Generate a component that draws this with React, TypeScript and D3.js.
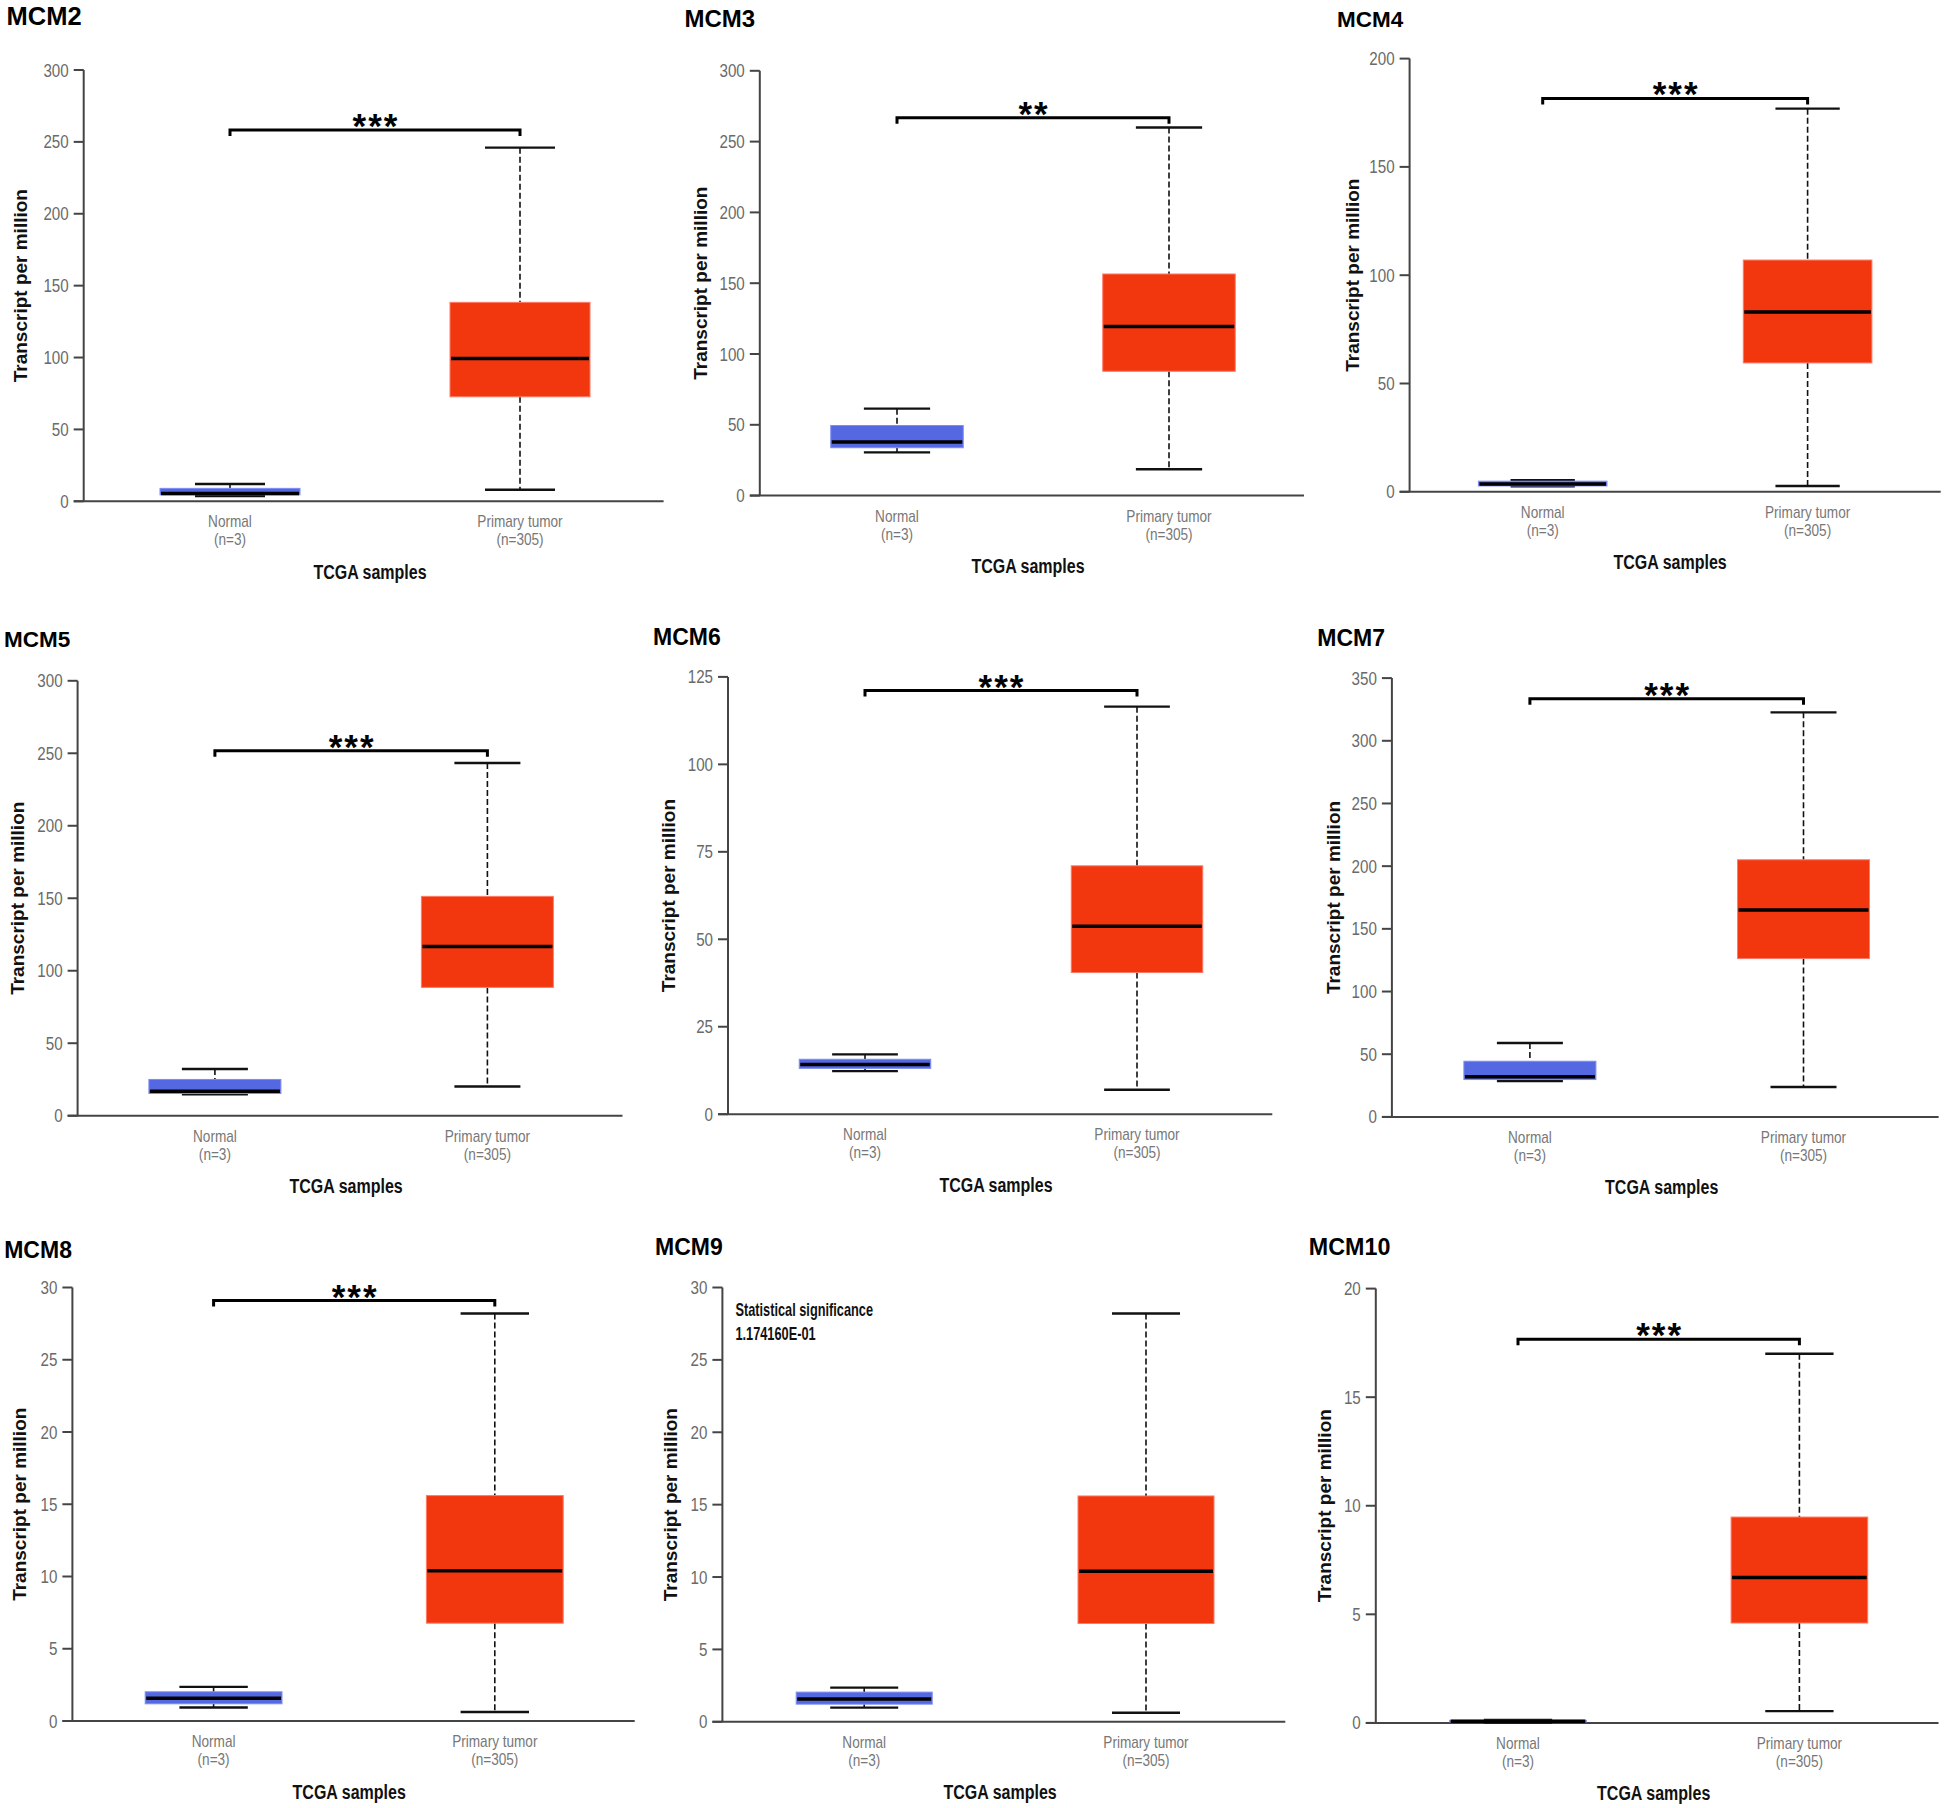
import React from "react";
import * as d3 from "d3";

// ---------- data ----------
const genes = ["MCM2", "MCM3", "MCM4", "MCM5", "MCM6", "MCM7", "MCM8", "MCM9", "MCM10"];
const categories = ["Normal", "Primary tumor"];
const sampleCounts = ["(n=3)", "(n=305)"];
const yMax = [300, 300, 200, 300, 125, 350, 30, 30, 20];
const yStep = [50, 50, 50, 50, 25, 50, 5, 5, 5];
// [whiskerLow, q1, median, q3, whiskerHigh]
const normalStats = [
  [3.7, 4.5, 5.5, 9, 12],
  [30.5, 33.8, 37.8, 49.5, 61.4],
  [2.5, 2.7, 3.6, 4.9, 5.3],
  [14.8, 15.3, 16.9, 25, 32.2],
  [12.3, 13.1, 14.2, 15.7, 17.1],
  [28.5, 29.8, 32, 44.4, 59],
  [0.93, 1.19, 1.58, 2.02, 2.36],
  [0.98, 1.22, 1.58, 2.05, 2.36],
  [0.02, 0.04, 0.08, 0.12, 0.14],
];
const tumorStats = [
  [8, 72.7, 99.3, 138.4, 246],
  [18.6, 87.8, 119.5, 156.5, 260],
  [2.7, 59.5, 83, 107, 176.9],
  [20.1, 88.5, 116.7, 151.3, 243.3],
  [7, 40.5, 53.7, 71, 116.5],
  [23.9, 126.3, 165.1, 205.1, 322.7],
  [0.62, 6.77, 10.4, 15.6, 28.2],
  [0.62, 6.79, 10.4, 15.6, 28.2],
  [0.54, 4.6, 6.7, 9.48, 17],
];
const significance = ["***", "**", "***", "***", "***", "***", "***", "", "***"];
const bracketValue = [258.2, 266.8, 181.6, 251.7, 121.1, 333.6, 29.1, 0, 17.67];
const annotationLines = [[], [], [], [], [], [], [], ["Statistical significance", "1.174160E-01"], []];

// ---------- layout (pixel positions of each panel) ----------
// axisX, top, bottom, xEnd, centerNormal, centerTumor, boxWidth, titleX, titleCY, ylabelDx, titleSize
const layout = [
  [83.7, 70, 501.3, 663.6, 230, 520, 140, 6.5, 16, 64, 25.5],
  [759.8, 70.8, 495.6, 1304, 897, 1169, 132.5, 684.4, 18.4, 60, 24],
  [1409.6, 58.6, 491.8, 1940.7, 1542.7, 1807.6, 128.6, 1337, 19.1, 58, 22.5],
  [77.6, 680.8, 1115.7, 622.5, 214.9, 487.4, 132, 4, 639.2, 60.5, 22.5],
  [728, 676.9, 1114.2, 1272.3, 865, 1137, 131.5, 653, 637.2, 60, 23],
  [1391.9, 678.1, 1116.9, 1938.6, 1529.9, 1803.5, 132, 1317.3, 638, 59, 23],
  [72.4, 1287.5, 1721, 634.7, 213.6, 494.8, 136.8, 4.2, 1249.3, 53.5, 23],
  [722.4, 1287.5, 1721.8, 1285.3, 864.2, 1146, 136, 655, 1247, 52, 23],
  [1375.8, 1288.6, 1722.9, 1938.5, 1518, 1799.4, 136.6, 1308.8, 1247, 52, 23.3],
];

const FONT = "'Liberation Sans', Arial, Helvetica, sans-serif";
const COLORS = ["#5468E2", "#F2370F"];
const EDGE = ["#7C8CF0", "#FF7A66"];

function SText({ x, y, sx = 1, size, weight = "normal", fill = "#000", anchor = "middle", children }: any) {
  return (
    <text
      transform={`translate(${x},${y}) scale(${sx},1)`}
      textAnchor={anchor}
      fontFamily={FONT}
      fontSize={size}
      fontWeight={weight}
      fill={fill}
    >
      {children}
    </text>
  );
}

function Box({ cx, w, stats, y, color, edge }: any) {
  const [lo, q1, med, q3, hi] = stats;
  const capW = w * 0.5;
  return (
    <g>
      <line x1={cx} x2={cx} y1={y(hi)} y2={y(q3)} stroke="#111" strokeWidth={1.6} strokeDasharray="6,3" />
      <line x1={cx} x2={cx} y1={y(q1)} y2={y(lo)} stroke="#111" strokeWidth={1.6} strokeDasharray="6,3" />
      <line x1={cx - capW / 2} x2={cx + capW / 2} y1={y(hi)} y2={y(hi)} stroke="#111" strokeWidth={2.4} />
      <line x1={cx - capW / 2} x2={cx + capW / 2} y1={y(lo)} y2={y(lo)} stroke="#111" strokeWidth={2.4} />
      <rect
        x={cx - w / 2}
        y={y(q3)}
        width={w}
        height={Math.max(y(q1) - y(q3), 1.5)}
        fill={color}
        stroke={edge}
        strokeWidth={1}
      />
      <line x1={cx - w / 2 + 1} x2={cx + w / 2 - 1} y1={y(med)} y2={y(med)} stroke="#000" strokeWidth={3.5} />
    </g>
  );
}

function Panel({ i }: { i: number }) {
  const [axisX, top, bottom, xEnd, cN, cT, boxW, titleX, titleCY, ylDx, titleSize] = layout[i];
  const y = d3.scaleLinear().domain([0, yMax[i]]).range([bottom, top]);
  const x = d3.scaleOrdinal<string, number>().domain(categories).range([cN, cT]);
  const ticks = d3.range(0, yMax[i] + yStep[i] / 2, yStep[i]);
  const stats = [normalStats[i], tumorStats[i]];
  const midY = (top + bottom) / 2;
  const by = y(bracketValue[i]);
  return (
    <g>
      <SText x={titleX} y={titleCY + titleSize * 0.36} size={titleSize} weight="bold" anchor="start">
        {genes[i]}
      </SText>
      {/* axes */}
      <line x1={axisX} x2={axisX} y1={top} y2={bottom} stroke="#444" strokeWidth={2} />
      <line x1={axisX - 10} x2={xEnd} y1={bottom} y2={bottom} stroke="#444" strokeWidth={2} />
      {ticks.map((t) => (
        <g key={t}>
          <line x1={axisX - 10} x2={axisX} y1={y(t)} y2={y(t)} stroke="#444" strokeWidth={2} />
          <SText x={axisX - 15} y={y(t) + 6.5} size={18.5} sx={0.82} anchor="end" fill="#6a6a6a">
            {d3.format("d")(t)}
          </SText>
        </g>
      ))}
      <text
        transform={`translate(${axisX - ylDx + 7},${midY}) rotate(-90)`}
        textAnchor="middle"
        fontFamily={FONT}
        fontSize={19}
        fontWeight="bold"
        fill="#111"
      >
        Transcript per million
      </text>
      {/* boxes */}
      {categories.map((c, k) => (
        <Box key={c} cx={x(c)} w={boxW} stats={stats[k]} y={y} color={COLORS[k]} edge={EDGE[k]} />
      ))}
      {/* category labels */}
      {categories.map((c, k) => (
        <g key={"l" + c}>
          <SText x={x(c)} y={bottom + 26} size={16} sx={0.85} fill="#777">
            {c}
          </SText>
          <SText x={x(c)} y={bottom + 44} size={16} sx={0.85} fill="#777">
            {sampleCounts[k]}
          </SText>
        </g>
      ))}
      <SText x={(cN + cT) / 2 - 5} y={bottom + 77.5} size={20} weight="bold" sx={0.8} fill="#111">
        TCGA samples
      </SText>
      {/* significance bracket */}
      {significance[i] && (
        <g>
          <path
            d={`M${cN},${by + 6}V${by}H${cT}V${by + 6}`}
            fill="none"
            stroke="#000"
            strokeWidth={3}
          />
          <text
            x={(cN + cT) / 2 + 1}
            y={by + 8}
            textAnchor="middle"
            fontFamily={FONT}
            fontSize={35}
            fontWeight="bold"
            letterSpacing={2}
            fill="#000"
          >
            {significance[i]}
          </text>
        </g>
      )}
      {annotationLines[i].map((s: string, k: number) => (
        <SText key={s} x={axisX + 13} y={top + 28.5 + k * 23.5} size={18} weight="bold" sx={0.71} anchor="start" fill="#111">
          {s}
        </SText>
      ))}
    </g>
  );
}

export default function App() {
  return (
    <svg
      width={1946}
      height={1808}
      viewBox="0 0 1946 1808"
      style={{ position: "absolute", left: 0, top: 0, background: "#fff" }}
    >
      <rect width={1946} height={1808} fill="#fff" />
      {genes.map((g, i) => (
        <Panel key={g} i={i} />
      ))}
    </svg>
  );
}
